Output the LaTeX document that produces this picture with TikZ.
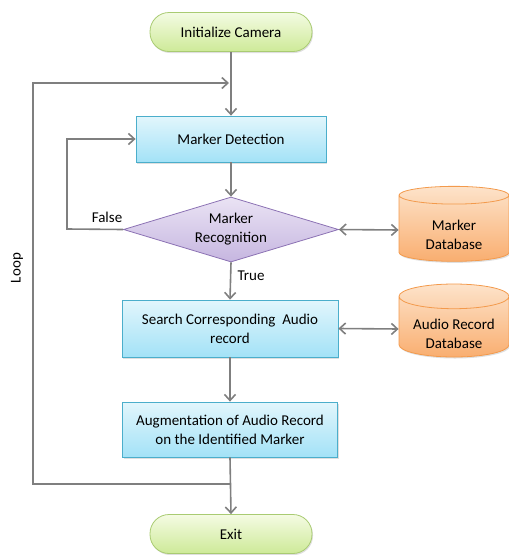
\documentclass[tikz,border=0pt]{standalone}
\usepackage{fontspec}
\setmainfont{Carlito}
\usetikzlibrary{arrows.meta,positioning,shapes.geometric,shadows}
\definecolor{flowgray}{HTML}{7F7F7F}
\definecolor{termtop}{HTML}{F4FBE3}
\definecolor{termbot}{HTML}{CDEA98}
\definecolor{termline}{HTML}{A9CB72}
\definecolor{steptop}{HTML}{E2F6FC}
\definecolor{stepbot}{HTML}{A3E2F7}
\definecolor{stepline}{HTML}{4BAECB}
\definecolor{dectop}{HTML}{EAE3F4}
\definecolor{decbot}{HTML}{C6B6E0}
\definecolor{decline}{HTML}{8C72B4}
\definecolor{dbtop}{HTML}{FDE3CA}
\definecolor{dbbot}{HTML}{F9AE70}
\definecolor{dbline}{HTML}{F39A4C}
% lower a line of text inside the cylinder body, below its lid
\newcommand{\dbline}[1]{\raisebox{-5pt}[\height][\depth]{#1}}
\tikzset{
      termbox/.style={
        rounded corners=19pt,
        draw=termline,
        line width=0.8pt,
        top color=termtop,
        bottom color=termbot,
        minimum width=162pt,
        minimum height=39pt,
        drop shadow={opacity=0.25,shadow xshift=1pt,shadow yshift=-1.5pt}
      },
      stepbox/.style={
        draw=stepline,
        line width=0.8pt,
        top color=steptop,
        bottom color=stepbot,
        align=center,
        inner sep=4pt,
        drop shadow={opacity=0.25,shadow xshift=1pt,shadow yshift=-1.5pt}
      },
      decisionbox/.style={
        diamond,
        aspect=3.3,
        draw=decline,
        line width=0.8pt,
        top color=dectop,
        bottom color=decbot,
        align=center,
        inner sep=0pt,
        minimum width=215pt,
        minimum height=65pt
      },
      storebox/.style={
        cylinder,
        shape border rotate=90,
        aspect=0.28,
        draw=dbline,
        line width=0.8pt,
        top color=dbtop,
        bottom color=dbbot,
        align=center,
        minimum width=110pt,
        drop shadow={opacity=0.25,shadow xshift=1pt,shadow yshift=-1.5pt}
      },
      flow/.style={-{Straight Barb[length=6pt,width=11pt]}, line width=1.6pt, color=flowgray},
      both/.style={{Straight Barb[length=6pt,width=11pt]}-{Straight Barb[length=6pt,width=11pt]}, line width=1.6pt, color=flowgray}
    }

\begin{document}
\begin{tikzpicture}[x=1pt,y=-1pt,font=\fontsize{15}{19}\selectfont]
    \useasboundingbox (0,0) rectangle (509,555);
    \node[termbox] (init) at (231,32) {Initialize Camera};
    \node[stepbox, minimum width=190pt, minimum height=46pt] (detect) at (231,139) {Marker Detection};
    \node[decisionbox] (recog) at (231,229.5) {Marker\\Recognition};
    \node[storebox, minimum height=75pt] (markerdb) at (454,230) {\dbline{Marker}\\\dbline{Database}};
    \node[stepbox, minimum width=216pt, minimum height=57pt] (search) at (230,328.5) {Search Corresponding\ \ Audio\\record};
    \node[storebox, minimum height=73pt] (audiodb) at (454,329) {\dbline{Audio Record}\\\dbline{Database}};
    \node[stepbox, minimum width=215pt, minimum height=55pt] (augment) at (230,429.5) {Augmentation of Audio\ Record\\on the Identified Marker};
    \node[termbox] (exit) at (231,534) {Exit};
    \node[rotate=90] (looplabel) at (17,268) {Loop};
    \node (falselabel) at (107,217) {False};
    \node (truelabel) at (251,276) {True};
    \coordinate (loopin) at (231,83);
    \coordinate (loopout) at (231,484);
    \coordinate (falsecorner) at (67,229);
    \draw[flow] (init.south) -- (detect.north);
    \draw[flow] (detect.south) -- (recog.north);
    \draw[flow] (recog.west) -- (falsecorner) |- (detect.west);
    \draw[flow] (recog.south) -- (search.north);
    \draw[both] (recog.east) -- (markerdb.west);
    \draw[both] (search.east) -- (audiodb.west);
    \draw[flow] (search.south) -- (augment.north);
    \draw[flow] (augment.south) -- (exit.north);
    \draw[flow] (loopout) -| (33,83) -- ([xshift=-2pt]loopin);
    \end{tikzpicture}
\end{document}
